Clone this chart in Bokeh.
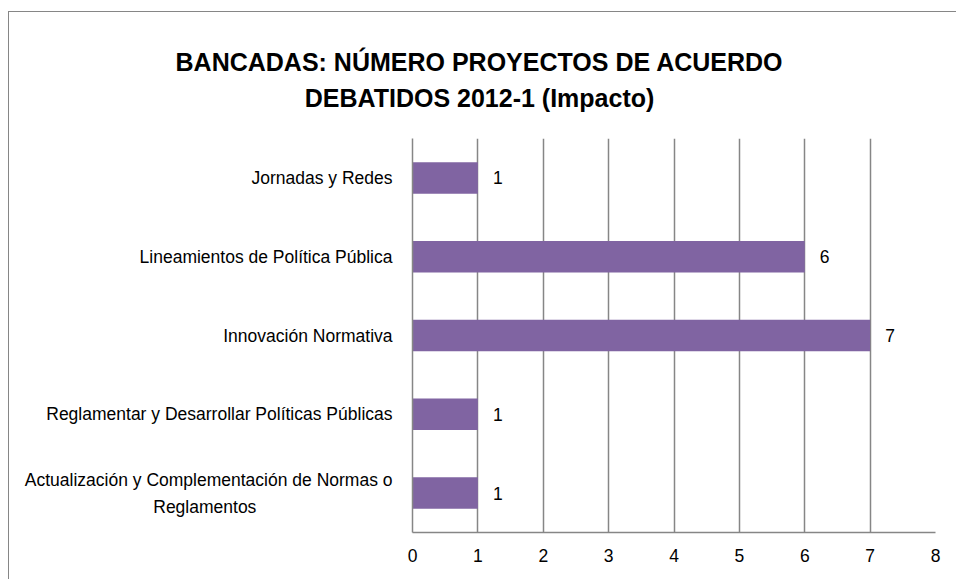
from bokeh.plotting import figure
from bokeh.models import FactorRange, Range1d, Label, ColumnDataSource
from bokeh.layouts import column
from bokeh.core.properties import value
from bokeh.embed import file_html
from bokeh.resources import INLINE

NB = "\u00a0"
categories = [
    "Actualización y Complementación de Normas o\nReglamentos" + NB * 28,
    "Reglamentar y Desarrollar Políticas Públicas",
    "Innovación Normativa",
    "Lineamientos de Política Pública",
    "Jornadas y Redes",
]
values = [1, 1, 7, 6, 1]
labels = [str(v) for v in values]
title_lines = ["BANCADAS: NÚMERO PROYECTOS DE ACUERDO", "DEBATIDOS 2012-1 (Impacto)"]

W = 947
TH = 120
MH = 447
FS = "17.5px"

# ---- title strip ----
t = figure(width=W, height=TH, output_backend="svg", toolbar_location=None,
           x_axis_type=None, y_axis_type=None, x_range=Range1d(0, 1), y_range=Range1d(0, 1),
           min_border=0)
t.title = None
t.outline_line_color = None
t.grid.visible = False
t.frame_align = False
for line, yc in zip(title_lines, [49, 85]):
    t.add_layout(Label(x=470, y=yc, x_units="canvas", y_units="canvas", text=line,
                       text_align="center", text_baseline="middle", text_font="Liberation Sans",
                       text_font_size="25px", text_font_style="bold", text_color="#000000"))

# ---- main chart ----
src = ColumnDataSource(dict(cat=categories, val=values, lab=labels))
p = figure(width=W, height=MH, output_backend="svg", toolbar_location=None,
           y_range=FactorRange(factors=categories, range_padding=0),
           x_range=Range1d(0, 8),
           min_border_left=403, min_border_right=21, min_border_top=6, min_border_bottom=47)
p.title = None
p.frame_align = False

p.hbar(y="cat", right="val", left=0, height=0.4, source=src, fill_color="#8064A2", line_color=None)
p.text(x="val", y="cat", text="lab", source=src, x_offset=15, text_baseline="middle",
       text_align="left", text_font=value("Liberation Sans"), text_font_size=FS, text_color="#000000")

p.outline_line_color = None
p.ygrid.grid_line_color = None
p.xgrid.grid_line_color = "#868686"
p.xgrid.grid_line_width = 1.5
p.xaxis.ticker = list(range(0, 9))
for ax in (p.xaxis[0], p.yaxis[0]):
    ax.axis_line_color = "#868686"
    ax.axis_line_width = 1.5
    ax.major_tick_line_color = None
    ax.minor_tick_line_color = None
    ax.major_label_text_font = "Liberation Sans"
    ax.major_label_text_font_size = FS
    ax.major_label_text_color = "#000000"
p.yaxis.major_label_text_line_height = 1.35
p.xaxis.major_label_standoff = 10
p.yaxis.major_label_standoff = 14

layout = column(t, p, spacing=0)
layout.styles = {"margin-left": "8px", "margin-top": "11px",
                 "border-left": "1.5px solid #868686", "border-top": "1.5px solid #868686"}

open("out.html", "w").write(file_html(layout, INLINE))
